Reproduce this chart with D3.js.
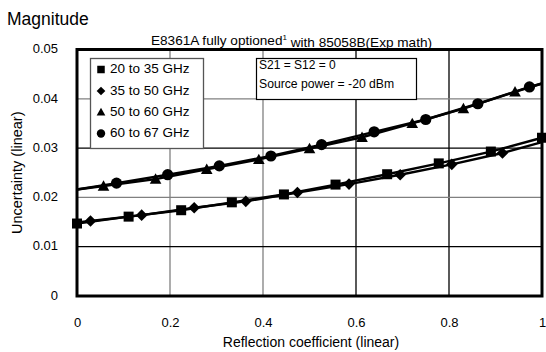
<!DOCTYPE html>
<html><head><meta charset="utf-8">
<script src="https://cdn.jsdelivr.net/npm/d3@7"></script>
<style>
body{margin:0;background:#fff;}
svg{display:block;}
text{font-family:"Liberation Sans Narrow","Arial Narrow","Liberation Sans",sans-serif;fill:#000;}
</style></head>
<body><svg id="c" width="546" height="352"></svg>
<script>
// ---- data ----
const xTicks = [0, 0.2, 0.4, 0.6, 0.8, 1];
const xTickLabels = ["0", "0.2", "0.4", "0.6", "0.8", "1"];
const yTicks = [0, 0.01, 0.02, 0.03, 0.04, 0.05];
const yTickLabels = ["0", "0.01", "0.02", "0.03", "0.04", "0.05"];
const seriesNames = ["20 to 35 GHz", "35 to 50 GHz", "50 to 60 GHz", "60 to 67 GHz"];

const sqX = [0, 0.111, 0.224, 0.333, 0.445, 0.556, 0.667, 0.778, 0.890, 1.0];
const sqY = [0.0147, 0.0161, 0.0174, 0.0190, 0.0206, 0.0226, 0.0247, 0.0269, 0.0293, 0.0321];

const diX = [0, 0.029, 0.139, 0.252, 0.363, 0.474, 0.585, 0.695, 0.806, 0.915, 1.0];
const diY = [0.0149, 0.0152, 0.0164, 0.0179, 0.0192, 0.0210, 0.0227, 0.0246, 0.0267, 0.0290, 0.0312];
const diMarked = [false, true, true, true, true, true, true, true, true, true, false];

const trX = [0, 0.057, 0.169, 0.279, 0.391, 0.500, 0.613, 0.721, 0.831, 0.942, 1.0];
const trY = [0.0216, 0.0223, 0.0237, 0.0257, 0.0277, 0.0299, 0.0322, 0.0350, 0.0380, 0.0414, 0.0431];
const trMarked = [false, true, true, true, true, true, true, true, true, true, false];

const ciX = [0, 0.085, 0.195, 0.306, 0.417, 0.526, 0.639, 0.750, 0.862, 0.973, 1.0];
const ciY = [0.0216, 0.0229, 0.0246, 0.0264, 0.0284, 0.0307, 0.0333, 0.0358, 0.0390, 0.0424, 0.0431];
const ciMarked = [false, true, true, true, true, true, true, true, true, true, false];

// ---- layout ----
const L = 77, R = 542, T = 49.5, B = 296;
const svg = d3.select("#c");
const x = d3.scaleLinear().domain([0, 1]).range([L, R]);
const y = d3.scaleLinear().domain([0, 0.05]).range([B, T]);

// gridlines
const vGridColor = {0.2: "#808080", 0.4: "#808080", 0.6: "#000", 0.8: "#000"};
const hGridColor = {0.01: "#000", 0.02: "#808080", 0.03: "#000", 0.04: "#808080"};
svg.append("g").selectAll("line").data(xTicks.slice(1, -1)).join("line")
  .attr("x1", d => x(d)).attr("x2", d => x(d)).attr("y1", T).attr("y2", B)
  .attr("stroke", d => vGridColor[d]).attr("stroke-width", 1.3);
svg.append("g").selectAll("line").data(yTicks.slice(1, -1)).join("line")
  .attr("y1", d => y(d)).attr("y2", d => y(d)).attr("x1", L).attr("x2", R)
  .attr("stroke", d => hGridColor[d]).attr("stroke-width", 1.3);

// axes tick labels via d3 axes
const xAxis = d3.axisBottom(x).tickValues(xTicks).tickFormat((d, i) => xTickLabels[i]).tickSize(0).tickPadding(0);
const gx = svg.append("g").attr("transform", `translate(0,${B})`).call(xAxis);
gx.select(".domain").remove();
gx.selectAll("text").attr("font-size", 13).attr("y", 26).attr("dy", "0.36em")
  .style("font-family", '"Liberation Sans Narrow","Arial Narrow","Liberation Sans",sans-serif');

const yAxis = d3.axisLeft(y).tickValues(yTicks).tickFormat((d, i) => yTickLabels[i]).tickSize(0).tickPadding(19);
const gy = svg.append("g").attr("transform", `translate(${L},0)`).call(yAxis);
gy.select(".domain").remove();
gy.selectAll("text").attr("font-size", 13).attr("dy", "0.25em")
  .style("font-family", '"Liberation Sans Narrow","Arial Narrow","Liberation Sans",sans-serif');

// series lines
const line = d3.line().x(d => x(d[0])).y(d => y(d[1]));
function zip(a, b) { return a.map((v, i) => [v, b[i]]); }
const series = [
  {xs: sqX, ys: sqY, marked: sqX.map(() => true), shape: "square"},
  {xs: diX, ys: diY, marked: diMarked, shape: "diamond"},
  {xs: trX, ys: trY, marked: trMarked, shape: "triangle"},
  {xs: ciX, ys: ciY, marked: ciMarked, shape: "circle"}
];
series.forEach(s => {
  svg.append("path").attr("d", line(zip(s.xs, s.ys)))
    .attr("fill", "none").attr("stroke", "#000").attr("stroke-width", 2.4);
});

function drawMarker(g, shape, cx, cy, scale) {
  scale = scale || 1;
  if (shape === "square") {
    const s = 10 * scale;
    g.append("rect").attr("x", cx - s / 2).attr("y", cy - s / 2).attr("width", s).attr("height", s).attr("fill", "#000");
  } else if (shape === "diamond") {
    const s = 5.8 * scale;
    g.append("path").attr("d", `M${cx},${cy - s}L${cx + s},${cy}L${cx},${cy + s}L${cx - s},${cy}Z`).attr("fill", "#000");
  } else if (shape === "triangle") {
    const s = 5.8 * scale;
    g.append("path").attr("d", `M${cx},${cy - s}L${cx + s},${cy + s * 0.8}L${cx - s},${cy + s * 0.8}Z`).attr("fill", "#000");
  } else {
    g.append("circle").attr("cx", cx).attr("cy", cy).attr("r", 5.6 * scale).attr("fill", "#000");
  }
}
const mg = svg.append("g");
series.forEach(s => {
  s.xs.forEach((xv, i) => { if (s.marked[i]) drawMarker(mg, s.shape, x(xv), y(s.ys[i])); });
});

// plot border
svg.append("rect").attr("x", L).attr("y", T).attr("width", R - L).attr("height", B - T)
  .attr("fill", "none").attr("stroke", "#000").attr("stroke-width", 3);

// legend
const lg = svg.append("g");
lg.append("rect").attr("x", 90.5).attr("y", 58.5).attr("width", 113).attr("height", 90)
  .attr("fill", "#fff").attr("stroke", "#555").attr("stroke-width", 1.3);
const shapes = ["square", "diamond", "triangle", "circle"];
const legY = [68.5, 90, 111, 132.5];
seriesNames.forEach((n, i) => {
  drawMarker(lg, shapes[i], 101, legY[i] + 1, 0.75);
  lg.append("text").attr("x", 110).attr("y", legY[i]).attr("dy", "0.36em").attr("font-size", 13.5).text(n);
});

// info box
const ib = svg.append("g");
ib.append("rect").attr("x", 256.5).attr("y", 58.5).attr("width", 160).attr("height", 41)
  .attr("fill", "#fff").attr("stroke", "#000").attr("stroke-width", 1.2);
ib.append("text").attr("x", 259).attr("y", 65).attr("dy", "0.36em").attr("font-size", 12).text("S21 = S12 = 0");
ib.append("text").attr("x", 259).attr("y", 83.5).attr("dy", "0.36em").attr("font-size", 12.2).text("Source power = -20 dBm");

// titles
svg.append("text").attr("x", 7).attr("y", 19).attr("dy", "0.36em").attr("font-size", 17.5).text("Magnitude");
const st = svg.append("text").attr("x", 291.5).attr("y", 40).attr("dy", "0.36em").attr("text-anchor", "middle").attr("font-size", 13.6);
st.append("tspan").text("E8361A fully optioned");
st.append("tspan").attr("font-size", 8).attr("dy", "-0.6em").text("1");
st.append("tspan").attr("dy", "0.5em").text(" with 85058B(Exp math)");

svg.append("text").attr("x", 311).attr("y", 342).attr("dy", "0.36em").attr("text-anchor", "middle").attr("font-size", 14).text("Reflection coefficient (linear)");
svg.append("text").attr("transform", `translate(17,${(T + B) / 2}) rotate(-90)`).attr("dy", "0.36em")
  .attr("text-anchor", "middle").attr("font-size", 14.5).text("Uncertainty (linear)");
</script></body></html>
